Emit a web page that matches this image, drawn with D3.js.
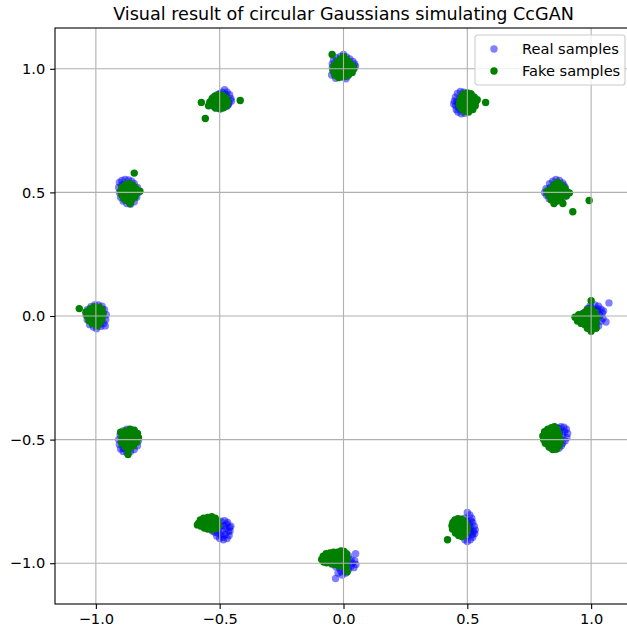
<!DOCTYPE html>
<html>
<head>
<meta charset="utf-8">
<script src="https://cdn.jsdelivr.net/npm/d3@7"></script>
<style>
  body { margin: 0; background: #fff; }
  text { font-family: "DejaVu Sans", sans-serif; }
</style>
</head>
<body>
<div id="chart"></div>
<script>
// Tick values shown on the axes
const xTicks = [-1.0, -0.5, 0.0, 0.5, 1.0];
const yTicks = [-1.0, -0.5, 0.0, 0.5, 1.0];

const title = "Visual result of circular Gaussians simulating CcGAN";
const seriesLabels = ["Real samples", "Fake samples"];

// Real samples, one list of [x, y] per Gaussian
const realSamples = [
  [[1.072,0.053],[1.060,-0.024],[1.048,-0.010],[1.045,0.012],[1.040,0.028],[1.030,0.040],[1.015,0.045],[0.995,0.040],[0.985,0.030],[1.035,0.002],[1.025,0.020],[1.020,-0.030],[1.040,-0.020],[1.010,0.025],[1.005,0.010],[0.990,0.015],[0.980,0.000],[0.975,-0.020],[0.990,-0.040],[1.005,-0.050],[1.020,-0.045],[1.000,-0.015],[1.015,0.000],[0.965,0.010],[1.030,-0.040],[1.050,0.020],[1.000,0.035],[0.985,-0.030],[1.010,-0.035],[1.025,0.030]],
  [[0.858,0.552],[0.845,0.545],[0.872,0.548],[0.832,0.535],[0.885,0.538],[0.818,0.515],[0.812,0.500],[0.820,0.488],[0.895,0.520],[0.900,0.505],[0.830,0.475],[0.850,0.470],[0.870,0.468],[0.888,0.480],[0.860,0.525],[0.845,0.510],[0.875,0.510],[0.860,0.495],[0.840,0.490],[0.880,0.495],[0.865,0.535],[0.850,0.530],[0.835,0.520],[0.890,0.528],[0.905,0.495],[0.825,0.505],[0.868,0.482],[0.855,0.485]],
  [[0.448,0.870],[0.452,0.885],[0.460,0.900],[0.472,0.908],[0.485,0.905],[0.453,0.850],[0.455,0.835],[0.462,0.825],[0.475,0.818],[0.490,0.820],[0.465,0.860],[0.470,0.880],[0.480,0.890],[0.495,0.895],[0.510,0.900],[0.520,0.890],[0.525,0.870],[0.520,0.845],[0.505,0.830],[0.490,0.845],[0.478,0.865],[0.495,0.870],[0.500,0.855],[0.510,0.880],[0.465,0.842],[0.458,0.868],[0.445,0.858],[0.475,0.835]],
  [[0.000,1.058],[-0.012,1.050],[0.012,1.048],[-0.045,1.020],[0.045,1.020],[-0.032,0.962],[-0.040,1.035],[-0.030,1.045],[0.025,1.040],[0.038,1.030],[0.040,1.005],[0.030,0.985],[0.015,0.970],[-0.015,0.965],[-0.042,0.990],[-0.045,1.005],[0.000,1.030],[-0.020,1.015],[0.020,1.010],[0.005,0.990],[-0.015,0.985],[0.025,0.995],[-0.025,1.030],[0.010,1.020],[-0.005,1.000],[0.048,1.010],[-0.048,0.975],[0.010,0.960]],
  [[-0.480,0.915],[-0.470,0.905],[-0.460,0.895],[-0.455,0.880],[-0.462,0.862],[-0.470,0.848],[-0.490,0.905],[-0.500,0.900],[-0.510,0.895],[-0.525,0.885],[-0.535,0.870],[-0.530,0.850],[-0.515,0.840],[-0.495,0.838],[-0.480,0.845],[-0.478,0.885],[-0.492,0.875],[-0.505,0.865],[-0.485,0.862],[-0.468,0.872],[-0.500,0.850],[-0.515,0.870],[-0.520,0.880],[-0.452,0.870],[-0.475,0.895],[-0.488,0.890],[-0.540,0.860],[-0.465,0.855]],
  [[-0.905,0.540],[-0.895,0.548],[-0.882,0.552],[-0.868,0.550],[-0.855,0.545],[-0.845,0.535],[-0.908,0.520],[-0.905,0.500],[-0.900,0.480],[-0.890,0.465],[-0.875,0.455],[-0.860,0.452],[-0.845,0.462],[-0.835,0.480],[-0.828,0.500],[-0.832,0.520],[-0.870,0.530],[-0.885,0.520],[-0.880,0.500],[-0.865,0.510],[-0.850,0.500],[-0.860,0.485],[-0.880,0.480],[-0.845,0.520],[-0.895,0.530],[-0.870,0.470],[-0.890,0.495],[-0.855,0.525]],
  [[-0.997,-0.052],[-0.990,0.045],[-1.005,0.045],[-0.975,0.040],[-0.965,0.025],[-0.958,0.005],[-0.960,-0.015],[-0.968,-0.030],[-0.980,-0.042],[-1.010,-0.045],[-1.025,-0.035],[-1.035,-0.015],[-1.040,0.005],[-1.035,0.025],[-1.020,0.038],[-1.000,0.020],[-0.985,0.010],[-0.980,-0.015],[-1.000,-0.025],[-1.015,0.000],[-1.015,-0.020],[-0.990,-0.005],[-1.005,0.030],[-0.972,0.010],[-1.025,0.015],[-0.988,-0.035],[-0.962,-0.040],[-0.975,0.028]],
  [[-0.905,-0.520],[-0.900,-0.538],[-0.890,-0.548],[-0.875,-0.552],[-0.860,-0.548],[-0.845,-0.540],[-0.832,-0.525],[-0.828,-0.505],[-0.832,-0.485],[-0.842,-0.470],[-0.858,-0.460],[-0.875,-0.458],[-0.890,-0.465],[-0.902,-0.480],[-0.908,-0.500],[-0.880,-0.500],[-0.865,-0.505],[-0.850,-0.500],[-0.870,-0.525],[-0.855,-0.520],[-0.885,-0.520],[-0.860,-0.480],[-0.880,-0.482],[-0.895,-0.505],[-0.845,-0.485],[-0.872,-0.538],[-0.840,-0.510],[-0.890,-0.535]],
  [[-0.455,-0.850],[-0.458,-0.870],[-0.462,-0.888],[-0.470,-0.900],[-0.485,-0.905],[-0.500,-0.900],[-0.512,-0.890],[-0.520,-0.875],[-0.468,-0.835],[-0.480,-0.828],[-0.495,-0.830],[-0.510,-0.840],[-0.475,-0.860],[-0.490,-0.870],[-0.505,-0.865],[-0.478,-0.885],[-0.495,-0.885],[-0.465,-0.872],[-0.482,-0.848],[-0.498,-0.850],[-0.525,-0.858],[-0.515,-0.848],[-0.460,-0.855],[-0.488,-0.895],[-0.508,-0.878],[-0.530,-0.870],[-0.472,-0.842],[-0.540,-0.850]],
  [[0.049,-0.962],[-0.032,-1.062],[0.045,-0.990],[0.050,-1.005],[0.042,-1.018],[0.030,-1.012],[0.020,-1.025],[0.005,-1.030],[-0.010,-1.035],[-0.022,-1.040],[-0.015,-1.020],[0.000,-1.010],[0.015,-1.000],[0.030,-0.985],[0.020,-0.970],[0.005,-0.960],[-0.015,-0.958],[-0.035,-0.965],[-0.050,-0.975],[-0.060,-0.990],[-0.045,-1.005],[-0.030,-1.015],[-0.020,-0.995],[0.000,-0.985],[-0.040,-0.985],[0.035,-1.000],[-0.005,-1.048],[0.010,-1.040]],
  [[0.500,-0.795],[0.510,-0.805],[0.518,-0.818],[0.522,-0.835],[0.528,-0.850],[0.532,-0.865],[0.530,-0.880],[0.522,-0.895],[0.512,-0.905],[0.500,-0.912],[0.490,-0.905],[0.502,-0.890],[0.510,-0.875],[0.515,-0.860],[0.508,-0.845],[0.500,-0.830],[0.490,-0.818],[0.480,-0.840],[0.485,-0.860],[0.492,-0.878],[0.478,-0.885],[0.470,-0.870],[0.465,-0.850],[0.495,-0.850],[0.505,-0.862],[0.520,-0.885],[0.525,-0.872],[0.515,-0.830]],
  [[0.905,-0.475],[0.900,-0.458],[0.890,-0.450],[0.878,-0.448],[0.902,-0.492],[0.895,-0.505],[0.885,-0.515],[0.870,-0.455],[0.860,-0.452],[0.848,-0.458],[0.835,-0.470],[0.825,-0.488],[0.822,-0.505],[0.828,-0.522],[0.840,-0.535],[0.855,-0.540],[0.870,-0.535],[0.880,-0.525],[0.885,-0.480],[0.872,-0.470],[0.858,-0.475],[0.845,-0.490],[0.850,-0.510],[0.865,-0.515],[0.875,-0.500],[0.860,-0.495],[0.892,-0.468],[0.838,-0.515]]
];

// Fake samples from the generator, same cluster order
const fakeSamples = [
  [[1.000,0.062],[0.935,-0.005],[0.950,0.005],[0.960,-0.015],[0.970,0.010],[0.975,-0.035],[0.985,-0.050],[1.000,-0.062],[1.010,-0.045],[1.020,-0.025],[1.025,-0.005],[1.015,0.015],[1.000,0.030],[0.990,0.000],[0.980,-0.015],[1.000,-0.020],[0.990,-0.035],[1.010,0.000],[0.975,0.015],[1.005,-0.035],[0.960,-0.030],[0.995,0.015],[0.985,0.025],[1.020,-0.050],[0.945,-0.020]],
  [[0.926,0.422],[0.992,0.467],[0.850,0.455],[0.886,0.455],[0.862,0.465],[0.838,0.470],[0.828,0.490],[0.822,0.505],[0.905,0.500],[0.900,0.485],[0.895,0.515],[0.880,0.530],[0.865,0.540],[0.850,0.530],[0.840,0.515],[0.860,0.510],[0.875,0.500],[0.855,0.495],[0.870,0.480],[0.845,0.485],[0.885,0.490],[0.835,0.500],[0.868,0.522],[0.912,0.498],[0.876,0.468]],
  [[0.574,0.864],[0.470,0.870],[0.475,0.885],[0.485,0.898],[0.500,0.902],[0.515,0.898],[0.528,0.885],[0.535,0.868],[0.532,0.850],[0.522,0.835],[0.505,0.825],[0.488,0.828],[0.475,0.840],[0.468,0.855],[0.490,0.860],[0.505,0.870],[0.515,0.855],[0.498,0.845],[0.495,0.882],[0.512,0.885],[0.525,0.860],[0.482,0.872],[0.540,0.875],[0.478,0.850]],
  [[-0.046,1.058],[0.000,1.050],[0.008,1.040],[-0.010,1.040],[-0.025,1.030],[0.020,1.030],[0.035,1.015],[0.042,1.000],[0.035,0.985],[0.020,0.975],[0.000,0.968],[-0.020,0.965],[-0.035,0.975],[-0.042,0.995],[-0.038,1.012],[-0.015,1.010],[0.010,1.010],[0.000,0.995],[-0.020,0.990],[0.020,0.995],[0.005,1.022],[-0.028,1.000],[0.025,1.015],[-0.005,0.980]],
  [[-0.558,0.799],[-0.417,0.872],[-0.574,0.864],[-0.540,0.865],[-0.530,0.880],[-0.518,0.890],[-0.502,0.895],[-0.488,0.892],[-0.475,0.882],[-0.468,0.868],[-0.472,0.852],[-0.485,0.842],[-0.500,0.838],[-0.518,0.842],[-0.532,0.852],[-0.510,0.865],[-0.495,0.870],[-0.490,0.855],[-0.505,0.880],[-0.520,0.870],[-0.482,0.870],[-0.525,0.860],[-0.545,0.850],[-0.498,0.852]],
  [[-0.845,0.578],[-0.895,0.520],[-0.900,0.505],[-0.895,0.488],[-0.885,0.472],[-0.870,0.465],[-0.855,0.470],[-0.842,0.482],[-0.835,0.498],[-0.838,0.515],[-0.850,0.528],[-0.865,0.535],[-0.880,0.532],[-0.878,0.505],[-0.862,0.500],[-0.858,0.515],[-0.870,0.485],[-0.852,0.490],[-0.885,0.495],[-0.868,0.520],[-0.848,0.505],[-0.875,0.478],[-0.862,0.455],[-0.822,0.505]],
  [[-1.067,0.030],[-1.040,0.015],[-1.035,0.000],[-1.028,-0.018],[-1.015,-0.030],[-1.000,-0.035],[-0.985,-0.028],[-0.975,-0.012],[-0.972,0.008],[-0.975,0.025],[-0.988,0.035],[-1.005,0.038],[-1.022,0.030],[-1.010,0.010],[-0.995,0.015],[-0.990,-0.005],[-1.005,-0.012],[-1.020,0.002],[-1.000,0.000],[-0.982,0.005],[-1.012,-0.022],[-0.995,-0.040],[-1.030,0.020],[-0.985,0.022]],
  [[-0.870,-0.560],[-0.895,-0.498],[-0.892,-0.480],[-0.880,-0.465],[-0.862,-0.458],[-0.845,-0.462],[-0.832,-0.475],[-0.828,-0.492],[-0.835,-0.510],[-0.848,-0.525],[-0.865,-0.532],[-0.882,-0.528],[-0.895,-0.515],[-0.875,-0.500],[-0.860,-0.495],[-0.850,-0.508],[-0.865,-0.475],[-0.848,-0.485],[-0.880,-0.485],[-0.862,-0.515],[-0.878,-0.515],[-0.838,-0.498],[-0.900,-0.470],[-0.870,-0.545]],
  [[-0.585,-0.838],[-0.578,-0.825],[-0.565,-0.818],[-0.548,-0.815],[-0.532,-0.812],[-0.518,-0.818],[-0.508,-0.830],[-0.505,-0.848],[-0.515,-0.860],[-0.530,-0.865],[-0.548,-0.862],[-0.562,-0.858],[-0.575,-0.850],[-0.555,-0.840],[-0.540,-0.835],[-0.525,-0.840],[-0.540,-0.850],[-0.560,-0.830],[-0.520,-0.828],[-0.590,-0.845],[-0.545,-0.825],[-0.512,-0.845],[-0.530,-0.852],[-0.565,-0.845]],
  [[0.015,-1.035],[-0.088,-0.985],[-0.082,-0.972],[-0.070,-0.962],[-0.055,-0.958],[-0.040,-0.955],[-0.025,-0.955],[-0.010,-0.950],[0.002,-0.952],[0.012,-0.962],[0.015,-0.980],[0.012,-1.000],[0.000,-1.012],[-0.018,-1.010],[-0.035,-1.005],[-0.050,-1.000],[-0.068,-0.998],[-0.080,-0.995],[-0.060,-0.980],[-0.040,-0.975],[-0.020,-0.975],[0.000,-0.975],[-0.025,-0.992],[-0.008,-0.995],[0.010,-1.020],[-0.070,-0.985],[-0.048,-0.988]],
  [[0.420,-0.905],[0.442,-0.835],[0.450,-0.825],[0.462,-0.820],[0.475,-0.822],[0.488,-0.828],[0.495,-0.842],[0.500,-0.858],[0.498,-0.872],[0.490,-0.885],[0.478,-0.892],[0.465,-0.888],[0.452,-0.878],[0.440,-0.862],[0.438,-0.848],[0.455,-0.850],[0.468,-0.838],[0.480,-0.845],[0.470,-0.862],[0.485,-0.868],[0.460,-0.870],[0.478,-0.878],[0.448,-0.865],[0.488,-0.855]],
  [[0.805,-0.485],[0.812,-0.468],[0.825,-0.458],[0.840,-0.452],[0.852,-0.448],[0.862,-0.458],[0.868,-0.475],[0.872,-0.492],[0.875,-0.510],[0.870,-0.525],[0.860,-0.538],[0.845,-0.540],[0.830,-0.530],[0.815,-0.515],[0.808,-0.500],[0.825,-0.495],[0.840,-0.485],[0.852,-0.470],[0.855,-0.495],[0.845,-0.510],[0.830,-0.478],[0.858,-0.515],[0.838,-0.525],[0.820,-0.505],[0.850,-0.530]]
];

const width = 627, height = 632;
// axes box; the right spine falls just outside the picture
const margin = { top: 28, left: 55, bottom: 604, right: 632 };
const fontSize = 14.6;
const markerR = 3.7;

const svg = d3.select("#chart").append("svg")
  .attr("width", width)
  .attr("height", height)
  .style("background", "#fff");

const x = d3.scaleLinear().domain([-1.165, 1.165]).range([margin.left, margin.right]);
const y = d3.scaleLinear().domain([-1.165, 1.165]).range([margin.bottom, margin.top]);

const fmt = d => d3.format(".1f")(d).replace("-", "\u2212");

// scatter layers: real first, fake on top
const plot = svg.append("g");
plot.append("g").selectAll("circle")
  .data(realSamples.flat())
  .enter().append("circle")
  .attr("cx", d => x(d[0]))
  .attr("cy", d => y(d[1]))
  .attr("r", markerR)
  .attr("fill", "#0000ff")
  .attr("fill-opacity", 0.5);

plot.append("g").selectAll("circle")
  .data(fakeSamples.flat())
  .enter().append("circle")
  .attr("cx", d => x(d[0]))
  .attr("cy", d => y(d[1]))
  .attr("r", markerR)
  .attr("fill", "#008000");

// grid sits above the scatter (matplotlib default zorder)
const grid = svg.append("g").attr("stroke", "#b0b0b0").attr("stroke-width", 1.1);
grid.selectAll(".gx").data(xTicks).enter().append("line")
  .attr("x1", d => x(d)).attr("x2", d => x(d))
  .attr("y1", margin.top).attr("y2", margin.bottom);
grid.selectAll(".gy").data(yTicks).enter().append("line")
  .attr("y1", d => y(d)).attr("y2", d => y(d))
  .attr("x1", margin.left).attr("x2", margin.right);

// axes
const xAxis = d3.axisBottom(x).tickValues(xTicks).tickFormat(fmt).tickSize(4.9).tickPadding(4.9);
const yAxis = d3.axisLeft(y).tickValues(yTicks).tickFormat(fmt).tickSize(4.9).tickPadding(4.9);

svg.append("g")
  .attr("transform", `translate(0,${margin.bottom})`)
  .call(xAxis)
  .call(g => g.select(".domain").remove())
  .call(g => g.selectAll("line").attr("stroke", "#000").attr("stroke-width", 1.1))
  .call(g => g.selectAll("text").attr("fill", "#000").style("font-size", fontSize + "px")
    .style("font-family", "DejaVu Sans"));

svg.append("g")
  .attr("transform", `translate(${margin.left},0)`)
  .call(yAxis)
  .call(g => g.select(".domain").remove())
  .call(g => g.selectAll("line").attr("stroke", "#000").attr("stroke-width", 1.1))
  .call(g => g.selectAll("text").attr("fill", "#000").style("font-size", fontSize + "px")
    .style("font-family", "DejaVu Sans"));

// spines
svg.append("rect")
  .attr("x", margin.left).attr("y", margin.top)
  .attr("width", margin.right - margin.left)
  .attr("height", margin.bottom - margin.top)
  .attr("fill", "none")
  .attr("stroke", "#000")
  .attr("stroke-width", 1.1);

// title
svg.append("text")
  .attr("x", (margin.left + margin.right) / 2)
  .attr("y", 20)
  .attr("text-anchor", "middle")
  .style("font-size", "17.6px")
  .attr("fill", "#000")
  .text(title);

// legend, upper right
const legend = svg.append("g").attr("transform", "translate(475,35)");
legend.append("rect")
  .attr("width", 150).attr("height", 50)
  .attr("rx", 2.8)
  .attr("fill", "#fff").attr("fill-opacity", 0.8)
  .attr("stroke", "#cccccc").attr("stroke-width", 1.1);

const legendColors = [["#0000ff", 0.5], ["#008000", 1]];
legend.selectAll(".lm").data(seriesLabels).enter().append("circle")
  .attr("cx", 19)
  .attr("cy", (_, i) => 14 + i * 22)
  .attr("r", markerR)
  .attr("fill", (_, i) => legendColors[i][0])
  .attr("fill-opacity", (_, i) => legendColors[i][1]);

legend.selectAll(".lt").data(seriesLabels).enter().append("text")
  .attr("x", 47)
  .attr("y", (_, i) => 14 + i * 22)
  .attr("dy", "0.36em")
  .style("font-size", fontSize + "px")
  .attr("fill", "#000")
  .text(d => d);
</script>
</body>
</html>
